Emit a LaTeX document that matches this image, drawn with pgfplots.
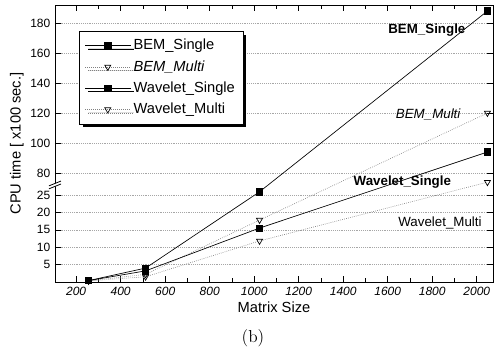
\documentclass[border=0pt]{standalone}
\usepackage{pgfplots}
\pgfplotsset{compat=1.18}
\usepackage{fontspec}
\setsansfont{Liberation Sans}
\usetikzlibrary{shadows}
\begin{document}
\begin{tikzpicture}
\begin{axis}[
  name=ax,
  scale only axis, width=328.5pt, height=207.75pt,
  xmin=105, xmax=2073, ymin=0, ymax=192,
  y coord trafo/.code={\pgfmathparse{ifthenelse(#1<=25,#1,ifthenelse(#1<80,25+(#1-25)*6.32/55,31.32+(#1-80)*0.431))}},
  ytick={5,10,15,20,25,80,100,120,140,160,180},
  yticklabels={5,10,15,20,25,80,100,120,140,160,180},
  xtick={200,400,600,800,1000,1200,1400,1600,1800,2000},
  minor x tick num=1,
  scaled ticks=false,
  /pgf/number format/1000 sep={},
  /pgf/number format/assume math mode=true,
  tick label style={font=\sffamily\fontsize{9}{10}\selectfont},
  x tick label style={font=\sffamily\itshape\fontsize{9}{10}\selectfont},
  ymajorgrids,
  major grid style={densely dotted, gray!70},
  tick style={black, thin},
  xlabel={Matrix Size},
  ylabel={CPU time [ x100 sec.]},
  label style={font=\sffamily\fontsize{11}{13}\selectfont},
  xlabel style={yshift=2pt},
  ylabel style={yshift=-2pt},
  legend style={at={(rel axis cs:0.055,0.906)}, anchor=north west,
    font=\sffamily\fontsize{11}{13}\selectfont, draw=black, fill=white,
    row sep=2.5pt, inner xsep=4pt, inner ysep=4pt,
    drop shadow={shadow xshift=2.5pt, shadow yshift=-2.5pt, fill=black, opacity=1}},
  legend cell align=left,
  legend image code/.code={\draw[mark repeat=2,mark phase=2] plot coordinates {(0cm,0cm) (0.6cm,0cm) (1.2cm,0cm)};},
  every axis plot/.append style={line width=0.5pt},
]
\addplot[black, solid, mark=square*, mark size=2.4pt] coordinates {(256,0.4) (512,4.0) (1024,33) (2048,188)};
\addlegendentry{BEM\_Single}
\addplot[gray, densely dotted, mark=triangle, mark size=2.6pt, mark options={solid, black, fill=white, rotate=180}] coordinates {(256,0.3) (512,2.2) (1024,17.8) (2048,120)};
\addlegendentry{\textit{BEM\_Multi}}
\addplot[black, solid, mark=square*, mark size=2.4pt] coordinates {(256,0.4) (512,3.2) (1024,15.5) (2048,94)};
\addlegendentry{Wavelet\_Single}
\addplot[gray, densely dotted, mark=triangle, mark size=2.6pt, mark options={solid, black, fill=white, rotate=180}] coordinates {(256,0.3) (512,1.5) (1024,11.8) (2048,57)};
\addlegendentry{Wavelet\_Multi}
\node[font=\sffamily\bfseries\fontsize{10}{12}\selectfont] at (rel axis cs:0.849,0.910) {BEM\_Single};
\node[font=\sffamily\itshape\fontsize{10}{12}\selectfont] at (rel axis cs:0.852,0.603) {BEM\_Multi};
\node[font=\sffamily\bfseries\fontsize{10}{12}\selectfont] at (rel axis cs:0.793,0.361) {Wavelet\_Single};
\node[font=\sffamily\fontsize{10}{12}\selectfont] at (rel axis cs:0.879,0.213) {Wavelet\_Multi};
\coordinate (brk) at (rel axis cs:0,0.350);
\end{axis}
\begin{scope}[shift={(brk)}]
  \fill[white] (-4.5pt,-2.8pt) -- (4.5pt,0.8pt) -- (4.5pt,3pt) -- (-4.5pt,-0.6pt) -- cycle;
  \draw[line width=0.6pt] (-4.5pt,-2.8pt) -- (4.5pt,0.8pt);
  \draw[line width=0.6pt] (-4.5pt,-0.6pt) -- (4.5pt,3pt);
\end{scope}
\node at ([shift={(148.5pt,-42pt)}]ax.south west) {\fontsize{13}{15}\selectfont (b)};
\path (ax.south west) ++(-41.25pt,-50.25pt) rectangle ++(372pt,261.75pt);
\end{tikzpicture}
\end{document}
